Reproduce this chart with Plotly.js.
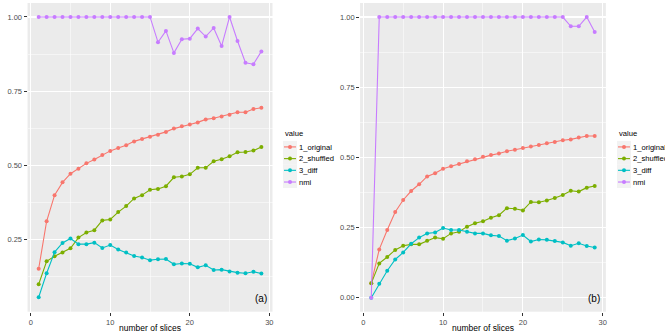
<!DOCTYPE html>
<html>
<head>
<meta charset="utf-8">
<script src="https://cdn.plot.ly/plotly-3.0.1.min.js"></script>
<style>body{margin:0;} #chart{width:665px;height:333px;}</style>
</head>
<body>
<div id="chart"></div>
<script>
var slices = [1,2,3,4,5,6,7,8,9,10,11,12,13,14,15,16,17,18,19,20,21,22,23,24,25,26,27,28,29];
var seriesNames = ['1_original', '2_shuffled', '3_diff', 'nmi'];
var seriesColors = ['#F8766D', '#7CAE00', '#00BFC4', '#C77CFF'];

// panel (a)
var origA = [0.152,0.312,0.400,0.443,0.472,0.489,0.507,0.520,0.535,0.549,0.559,0.568,0.581,0.589,0.597,
             0.603,0.613,0.624,0.632,0.638,0.645,0.655,0.659,0.665,0.671,0.679,0.679,0.690,0.694];
var shufA = [0.100,0.177,0.194,0.207,0.221,0.257,0.274,0.282,0.315,0.318,0.343,0.363,0.389,0.400,0.418,
             0.421,0.430,0.460,0.463,0.470,0.492,0.492,0.514,0.521,0.531,0.544,0.545,0.550,0.562];
var diffA = [0.056,0.137,0.208,0.239,0.254,0.235,0.235,0.240,0.222,0.232,0.217,0.207,0.195,0.190,0.181,
             0.184,0.185,0.167,0.170,0.169,0.157,0.164,0.148,0.149,0.143,0.139,0.137,0.142,0.136];
var nmiA  = [1,1,1,1,1,1,1,1,1,1,1,1,1,1,1,
             0.915,0.953,0.879,0.925,0.927,0.961,0.934,0.963,0.902,1.000,0.919,0.846,0.841,0.884];

// panel (b)
var origB = [0.051,0.172,0.241,0.305,0.348,0.380,0.404,0.432,0.443,0.459,0.468,0.476,0.486,0.493,0.502,
             0.508,0.514,0.522,0.527,0.533,0.539,0.544,0.550,0.555,0.561,0.564,0.571,0.576,0.576];
var shufB = [0.051,0.122,0.145,0.170,0.185,0.190,0.190,0.203,0.214,0.210,0.229,0.235,0.253,0.265,0.272,
             0.285,0.294,0.319,0.317,0.311,0.341,0.340,0.346,0.355,0.366,0.381,0.378,0.392,0.398];
var diffB = [0.000,0.050,0.096,0.136,0.161,0.192,0.214,0.229,0.232,0.248,0.241,0.241,0.235,0.229,0.229,
             0.222,0.220,0.203,0.211,0.223,0.200,0.207,0.206,0.202,0.197,0.185,0.194,0.184,0.179];
var nmiB  = [0,1,1,1,1,1,1,1,1,1,1,1,1,1,1,1,1,1,1,1,1,1,1,1,1,0.967,0.967,1.000,0.947];

var panelA = [origA, shufA, diffA, nmiA];
var panelB = [origB, shufB, diffB, nmiB];

var data = [];
function addPanel(values, xa, ya, showLeg) {
  for (var i = 0; i < values.length; i++) {
    data.push({
      x: slices, y: values[i], name: seriesNames[i],
      type: 'scatter', mode: 'lines+markers',
      xaxis: xa, yaxis: ya, showlegend: showLeg,
      line: {color: seriesColors[i], width: 1.1},
      marker: {color: seriesColors[i], size: 4}
    });
  }
}
addPanel(panelA, 'x', 'y', true);
addPanel(panelB, 'x2', 'y2', false);

var fontFam = 'Liberation Sans, Arial, sans-serif';
var tickFont = {family: fontFam, size: 7.5, color: '#4D4D4D'};
function xAxis(dom, anchor) {
  return {
    domain: dom, anchor: anchor, range: [-0.4, 30.4],
    tickvals: [0, 10, 20, 30], ticks: 'outside', ticklen: 3, tickcolor: '#333333',
    tickfont: tickFont, showline: false, zeroline: false,
    gridcolor: '#FFFFFF', gridwidth: 1.1,
    minor: {tickvals: [5, 15, 25], showgrid: true, gridcolor: '#FFFFFF', gridwidth: 0.5, ticks: ''},
    title: {text: 'number of slices', font: {family: fontFam, size: 8.5, color: '#000'}, standoff: 2}
  };
}
function yAxis(dom, anchor, range, vals, txt, minorVals) {
  return {
    domain: dom, anchor: anchor, range: range,
    tickvals: vals, ticktext: txt, ticks: 'outside', ticklen: 3, tickcolor: '#333333',
    tickfont: tickFont, showline: false, zeroline: false,
    gridcolor: '#FFFFFF', gridwidth: 1.1,
    minor: {tickvals: minorVals, showgrid: true, gridcolor: '#FFFFFF', gridwidth: 0.5, ticks: ''}
  };
}

var legFont = {family: fontFam, size: 7.6, color: '#000'};
var layout = {
  width: 665, height: 333,
  margin: {l: 0, r: 0, t: 0, b: 0},
  paper_bgcolor: '#FFFFFF', plot_bgcolor: '#EBEBEB',
  xaxis: xAxis([0.0414, 0.4098], 'y'),
  yaxis: yAxis([0.064, 0.991], 'x', [0.0075, 1.047], [0.25, 0.5, 0.75, 1.0], ['0.25', '0.50', '0.75', '1.00'], [0.125, 0.375, 0.625, 0.875]),
  xaxis2: xAxis([0.5415, 0.9111], 'y2'),
  yaxis2: yAxis([0.064, 0.991], 'x2', [-0.05, 1.05], [0, 0.25, 0.5, 0.75, 1.0], ['0.00', '0.25', '0.50', '0.75', '1.00'], [0.125, 0.375, 0.625, 0.875]),
  legend: {x: 0.421, y: 0.62, xanchor: 'left', yanchor: 'top', font: legFont,
           title: {text: 'value', font: legFont}, itemwidth: 30, bgcolor: 'rgba(0,0,0,0)'},
  annotations: [
    {text: '(a)', xref: 'x domain', yref: 'y domain', x: 0.985, y: 0.02, xanchor: 'right', yanchor: 'bottom',
     showarrow: false, font: {family: fontFam, size: 10, color: '#000'}},
    {text: '(b)', xref: 'x2 domain', yref: 'y2 domain', x: 0.985, y: 0.02, xanchor: 'right', yanchor: 'bottom',
     showarrow: false, font: {family: fontFam, size: 10, color: '#000'}}
  ]
};

// ggplot-style compact legend: short key on a grey box, 12px rows; the same legend is shown for both panels
var legendLeft = 283, legendLeft2 = 617;
function compactLegends(gd) {
  var NS = 'http://www.w3.org/2000/svg';
  var root = gd.getBoundingClientRect();
  var lg = gd.querySelector('g.legend');
  if (!lg || lg.getAttribute('data-compact')) return;
  lg.setAttribute('data-compact', '1');
  lg.querySelectorAll('[clip-path]').forEach(function (e) { e.removeAttribute('clip-path'); });
  var items = lg.querySelectorAll('g.traces');
  var y0 = null;
  items.forEach(function (it, i) {
    var m = /translate\(([-\d.]+),\s*([-\d.]+)\)/.exec(it.getAttribute('transform') || '');
    if (!m) return;
    if (y0 === null) y0 = parseFloat(m[2]) - 4;
    it.setAttribute('transform', 'translate(' + m[1] + ',' + (y0 + i * 11.7) + ')');
    var box = document.createElementNS(NS, 'rect');
    box.setAttribute('x', 0); box.setAttribute('y', -6);
    box.setAttribute('width', 14); box.setAttribute('height', 12);
    box.setAttribute('fill', '#F2F2F2');
    it.insertBefore(box, it.firstChild);
    it.querySelectorAll('.legendlines path').forEach(function (p) { p.setAttribute('d', 'M1,0h12'); });
    it.querySelectorAll('.legendpoints path').forEach(function (p) { p.setAttribute('transform', 'translate(7,0)'); });
    var t = it.querySelector('text.legendtext');
    if (t) {
      var label = document.createElementNS(NS, 'text');
      label.textContent = t.textContent;
      label.setAttribute('x', 16); label.setAttribute('y', 2.8);
      label.setAttribute('fill', '#000');
      label.setAttribute('style', 'font-family:' + fontFam + ';font-size:' + legFont.size + 'px;');
      t.style.display = 'none';
      it.appendChild(label);
    }
  });
  var first = lg.querySelector('g.traces rect');
  if (!first) return;
  var dx = legendLeft - (first.getBoundingClientRect().left - root.left);
  var mt = /translate\(([-\d.]+),\s*([-\d.]+)\)/.exec(lg.getAttribute('transform') || '');
  if (!mt) return;
  var lx = parseFloat(mt[1]) + dx;
  lg.setAttribute('transform', 'translate(' + lx + ',' + mt[2] + ')');
  // copy for panel (b)
  var copy = lg.cloneNode(true);
  copy.setAttribute('transform', 'translate(' + (lx + legendLeft2 - legendLeft) + ',' + mt[2] + ')');
  lg.parentNode.appendChild(copy);
}

Plotly.newPlot('chart', data, layout, {displayModeBar: false, staticPlot: true}).then(function (gd) {
  setTimeout(function () { compactLegends(gd); }, 200);
});
</script>
</body>
</html>
